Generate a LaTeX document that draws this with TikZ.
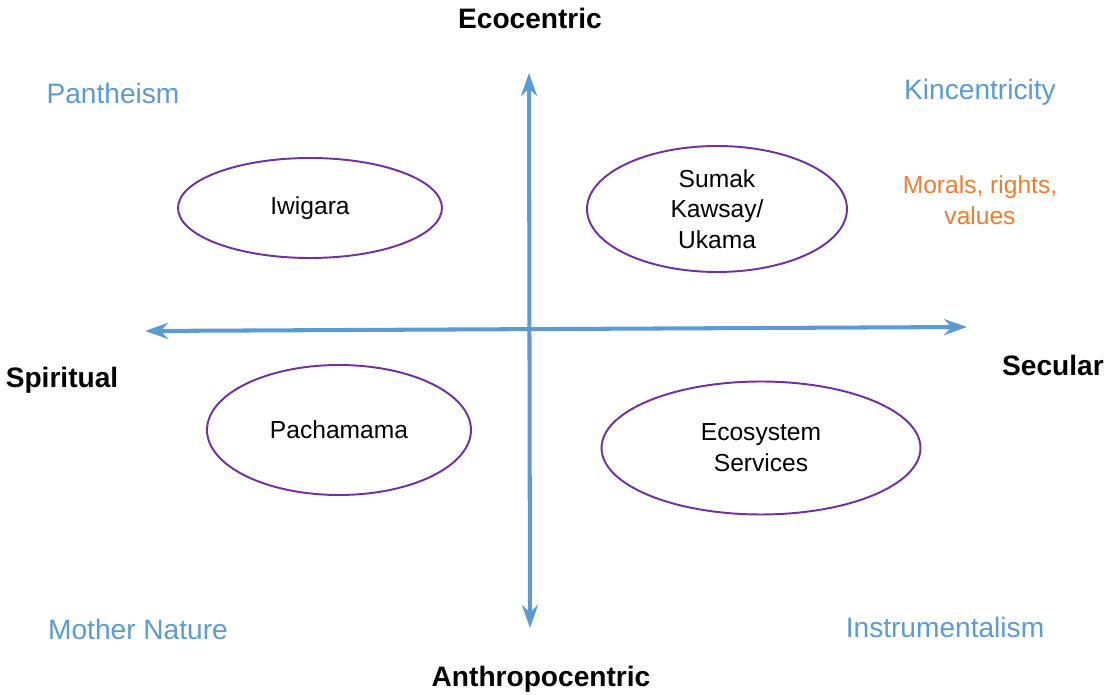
\documentclass[tikz,border=0pt]{standalone}
\usepackage{fontspec}
\setmainfont{Liberation Sans}
\usetikzlibrary{shapes.geometric,arrows.meta}

\definecolor{axisblue}{HTML}{5B9BD5}
\definecolor{ringpurple}{HTML}{7030A0}
\definecolor{noteorange}{HTML}{ED7D31}

\begin{document}
\begin{tikzpicture}[x=0.02cm, y=-0.02cm]
  \tikzset{axis/.style={draw=axisblue, line width=2.3pt, {Stealth[length=0.46cm,width=0.32cm]}-{Stealth[length=0.46cm,width=0.32cm]}},
           pole/.style={font=\fontsize{16}{19}\selectfont\bfseries},
           corner/.style={text=axisblue, font=\fontsize{16}{19}\selectfont},
           view/.style={ellipse, draw=ringpurple, line width=1.1pt, align=center, inner sep=0pt,
                        font=\fontsize{14}{17.5}\selectfont}}
  \useasboundingbox (0,0) rectangle (1107,695);
  % axes
  \coordinate (top) at (529,73);
  \coordinate (bottom) at (530,628);
  \coordinate (left) at (145,331);
  \coordinate (right) at (967,327);
  \draw[axis] (top) -- (bottom);
  \draw[axis] (left) -- (right);
  % poles
  \node[pole] (eco) at (530,18) {Ecocentric};
  \node[pole] (anthro) at (541,679) {Anthropocentric};
  \node[pole] (spirit) at (62,380) {Spiritual};
  \node[pole] (secular) at (1053,365) {Secular};
  % corners
  \node[corner] (panth) at (113,93) {Pantheism};
  \node[corner] (kin) at (980,92) {Kincentricity};
  \node[corner] (mother) at (138,629) {Mother Nature};
  \node[corner] (instr) at (945,627) {Instrumentalism};
  \node[text=noteorange, align=center, font=\fontsize{14}{17.5}\selectfont] (morals) at (980,200) {Morals, rights,\\values};
  % views
  \node[view, minimum width=5.28cm, minimum height=2cm] (iwigara) at (310,208) {Iwigara};
  \node[view, minimum width=5.2cm, minimum height=2.52cm] (sumak) at (717,209) {Sumak\\Kawsay/\\Ukama};
  \node[view, minimum width=5.28cm, minimum height=2.6cm] (pacha) at (339,430) {Pachamama};
  \node[view, minimum width=6.38cm, minimum height=2.66cm] (ecoserv) at (761,448) {Ecosystem\\Services};
\end{tikzpicture}
\end{document}
